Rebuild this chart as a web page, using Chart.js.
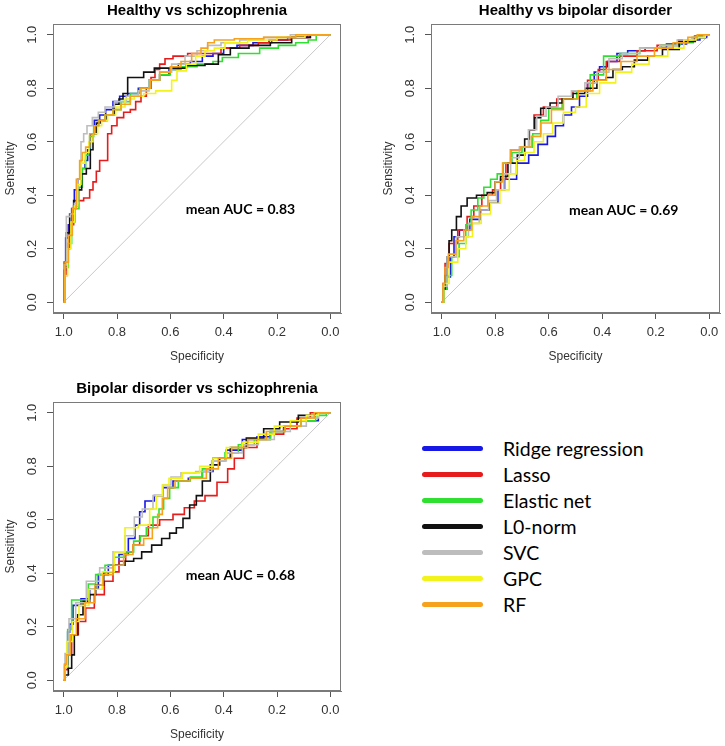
<!DOCTYPE html>
<html>
<head>
<meta charset="utf-8">
<script src="https://cdn.jsdelivr.net/npm/chart.js@4.4.1/dist/chart.umd.min.js"></script>
<style>
  html, body { margin: 0; padding: 0; background: #fff; }
  body { width: 725px; height: 746px; position: relative; overflow: hidden; }
  canvas { position: absolute; }
  #legend { position: absolute; left: 422px; top: 435px; font-family: Lato, "Open Sans", sans-serif; font-size: 19.5px; color: #000; }
  #legend .row { height: 26px; display: flex; align-items: center; }
  #legend .swatch { display: inline-block; width: 61px; height: 5px; border-radius: 3px; margin-right: 20px; }
</style>
</head>
<body>
<canvas id="hs" width="362" height="373" style="left:0;top:0"></canvas>
<canvas id="hb" width="363" height="373" style="left:362px;top:0"></canvas>
<canvas id="bs" width="362" height="373" style="left:0;top:378px"></canvas>
<div id="legend"></div>
<script>
// ── Models & styling ──
const models = ['Ridge regression', 'Lasso', 'Elastic net', 'L0-norm', 'SVC', 'GPC', 'RF'];
const modelColors = ['#1818e6', '#e61c1c', '#30e030', '#111111', '#bdbdbd', '#f2f21c', '#f7a21c'];
const xTicks = [1.0, 0.8, 0.6, 0.4, 0.2, 0.0];
const yTicks = [0.0, 0.2, 0.4, 0.6, 0.8, 1.0];

// ── Healthy vs schizophrenia: [specificity, sensitivity] ──
const hsRidge = [[1,0],[0.995,0.12],[0.99,0.24],[0.975,0.29],[0.965,0.35],[0.955,0.42],[0.94,0.46],[0.925,0.5],[0.915,0.53],[0.905,0.57],[0.895,0.63],[0.875,0.68],[0.855,0.7],[0.83,0.72],[0.8,0.75],[0.78,0.77],[0.74,0.78],[0.7,0.8],[0.66,0.83],[0.62,0.85],[0.59,0.87],[0.55,0.89],[0.5,0.9],[0.46,0.92],[0.42,0.93],[0.38,0.95],[0.32,0.96],[0.26,0.97],[0.2,0.98],[0.12,0.99],[0.05,1],[0,1]];
const hsLasso = [[1,0],[0.99,0.1],[0.985,0.2],[0.97,0.29],[0.955,0.36],[0.94,0.38],[0.91,0.39],[0.895,0.42],[0.885,0.45],[0.87,0.49],[0.86,0.53],[0.84,0.53],[0.83,0.63],[0.81,0.66],[0.79,0.69],[0.76,0.71],[0.74,0.72],[0.72,0.75],[0.7,0.77],[0.68,0.8],[0.665,0.84],[0.65,0.87],[0.63,0.89],[0.61,0.91],[0.57,0.92],[0.5,0.93],[0.44,0.93],[0.38,0.95],[0.3,0.96],[0.24,0.97],[0.2,0.98],[0.1,0.99],[0.05,1],[0,1]];
const hsElastic = [[1,0],[0.99,0.13],[0.975,0.22],[0.965,0.3],[0.95,0.35],[0.935,0.43],[0.925,0.5],[0.91,0.55],[0.895,0.62],[0.88,0.66],[0.86,0.68],[0.83,0.7],[0.8,0.72],[0.77,0.75],[0.73,0.78],[0.7,0.8],[0.66,0.83],[0.62,0.85],[0.58,0.87],[0.54,0.88],[0.46,0.89],[0.42,0.9],[0.39,0.915],[0.3,0.93],[0.23,0.95],[0.16,0.96],[0.1,0.97],[0.066,0.98],[0.04,1],[0,1]];
const hsL0 = [[1,0],[0.995,0.15],[0.985,0.26],[0.97,0.33],[0.955,0.38],[0.94,0.42],[0.925,0.48],[0.905,0.5],[0.895,0.57],[0.885,0.63],[0.87,0.67],[0.855,0.68],[0.82,0.7],[0.8,0.74],[0.785,0.76],[0.77,0.78],[0.75,0.84],[0.72,0.84],[0.68,0.86],[0.64,0.875],[0.58,0.875],[0.5,0.885],[0.44,0.89],[0.4,0.925],[0.35,0.95],[0.26,0.96],[0.19,0.97],[0.1,0.99],[0.05,1],[0,1]];
const hsSVC = [[1,0],[0.995,0.14],[0.985,0.32],[0.965,0.33],[0.955,0.37],[0.94,0.46],[0.93,0.6],[0.92,0.63],[0.905,0.66],[0.88,0.69],[0.86,0.71],[0.83,0.73],[0.79,0.75],[0.74,0.77],[0.7,0.79],[0.66,0.83],[0.62,0.86],[0.57,0.89],[0.52,0.92],[0.48,0.94],[0.44,0.96],[0.38,0.97],[0.3,0.98],[0.2,0.99],[0.1,1],[0,1]];
const hsGPC = [[1,0],[0.99,0.1],[0.98,0.2],[0.965,0.3],[0.955,0.36],[0.94,0.44],[0.93,0.52],[0.91,0.56],[0.9,0.6],[0.88,0.63],[0.865,0.66],[0.85,0.68],[0.82,0.7],[0.79,0.73],[0.75,0.76],[0.72,0.77],[0.68,0.78],[0.63,0.79],[0.6,0.79],[0.59,0.83],[0.56,0.865],[0.52,0.89],[0.49,0.92],[0.45,0.94],[0.42,0.95],[0.37,0.97],[0.25,0.98],[0.15,0.99],[0.04,1],[0,1]];
const hsRF = [[1,0],[0.99,0.15],[0.975,0.25],[0.96,0.35],[0.945,0.46],[0.935,0.53],[0.925,0.56],[0.91,0.58],[0.895,0.63],[0.875,0.66],[0.86,0.68],[0.83,0.7],[0.8,0.72],[0.77,0.74],[0.73,0.77],[0.69,0.8],[0.66,0.83],[0.62,0.86],[0.58,0.88],[0.54,0.9],[0.5,0.93],[0.47,0.95],[0.45,0.97],[0.42,0.98],[0.3,0.985],[0.2,0.99],[0.06,1],[0,1]];

// ── Healthy vs bipolar disorder ──
const hbRidge = [[1,0],[0.985,0.05],[0.975,0.095],[0.96,0.17],[0.948,0.245],[0.92,0.27],[0.87,0.31],[0.84,0.345],[0.8,0.37],[0.78,0.42],[0.75,0.46],[0.69,0.52],[0.66,0.55],[0.62,0.59],[0.59,0.62],[0.56,0.66],[0.53,0.7],[0.5,0.73],[0.47,0.77],[0.44,0.82],[0.42,0.86],[0.4,0.88],[0.36,0.9],[0.33,0.93],[0.28,0.94],[0.2,0.95],[0.12,0.965],[0.05,0.98],[0.02,0.99],[0,1]];
const hbLasso = [[1,0],[0.99,0.07],[0.985,0.145],[0.96,0.22],[0.92,0.27],[0.89,0.32],[0.87,0.36],[0.83,0.4],[0.79,0.42],[0.77,0.46],[0.75,0.52],[0.735,0.57],[0.68,0.58],[0.67,0.645],[0.64,0.7],[0.6,0.73],[0.54,0.76],[0.48,0.79],[0.43,0.83],[0.4,0.87],[0.37,0.9],[0.3,0.92],[0.24,0.94],[0.15,0.96],[0.08,0.98],[0.03,0.995],[0,1]];
const hbElastic = [[1,0],[0.985,0.05],[0.975,0.1],[0.95,0.17],[0.92,0.22],[0.9,0.29],[0.88,0.345],[0.85,0.39],[0.835,0.43],[0.8,0.46],[0.785,0.48],[0.755,0.52],[0.72,0.56],[0.68,0.58],[0.64,0.63],[0.62,0.68],[0.58,0.725],[0.52,0.76],[0.47,0.79],[0.42,0.85],[0.37,0.92],[0.3,0.93],[0.22,0.95],[0.14,0.96],[0.08,0.97],[0.04,0.99],[0,1]];
const hbL0 = [[1,0],[0.99,0.05],[0.985,0.1],[0.975,0.17],[0.97,0.23],[0.955,0.27],[0.935,0.32],[0.92,0.36],[0.89,0.39],[0.85,0.4],[0.81,0.41],[0.79,0.45],[0.77,0.47],[0.735,0.52],[0.7,0.55],[0.68,0.61],[0.665,0.645],[0.64,0.69],[0.62,0.725],[0.57,0.745],[0.53,0.76],[0.49,0.78],[0.44,0.8],[0.4,0.83],[0.37,0.84],[0.35,0.87],[0.3,0.88],[0.26,0.905],[0.2,0.92],[0.15,0.945],[0.075,0.975],[0.03,0.99],[0,1]];
const hbSVC = [[1,0],[0.99,0.06],[0.97,0.17],[0.92,0.245],[0.88,0.295],[0.84,0.345],[0.81,0.38],[0.78,0.42],[0.755,0.48],[0.73,0.54],[0.69,0.58],[0.66,0.645],[0.63,0.695],[0.59,0.73],[0.54,0.77],[0.49,0.79],[0.44,0.82],[0.4,0.86],[0.35,0.91],[0.3,0.93],[0.22,0.95],[0.15,0.96],[0.09,0.98],[0.04,0.99],[0,1]];
const hbGPC = [[1,0],[0.985,0.07],[0.96,0.15],[0.92,0.2],[0.9,0.245],[0.87,0.295],[0.835,0.33],[0.8,0.37],[0.765,0.42],[0.73,0.48],[0.71,0.53],[0.67,0.56],[0.64,0.6],[0.6,0.63],[0.57,0.67],[0.52,0.71],[0.48,0.73],[0.44,0.78],[0.38,0.82],[0.32,0.86],[0.26,0.89],[0.19,0.92],[0.12,0.95],[0.07,0.98],[0.03,0.99],[0,1]];
const hbRF = [[1,0],[0.99,0.07],[0.985,0.13],[0.965,0.18],[0.93,0.23],[0.905,0.27],[0.87,0.32],[0.845,0.36],[0.81,0.4],[0.79,0.45],[0.755,0.52],[0.73,0.57],[0.68,0.58],[0.65,0.62],[0.61,0.67],[0.57,0.72],[0.52,0.76],[0.46,0.79],[0.41,0.83],[0.36,0.87],[0.3,0.9],[0.24,0.92],[0.17,0.95],[0.1,0.97],[0.06,0.99],[0.03,1],[0,1]];

// ── Bipolar disorder vs schizophrenia ──
const bsRidge = [[1,0],[0.99,0.06],[0.98,0.18],[0.975,0.21],[0.955,0.28],[0.915,0.305],[0.89,0.34],[0.85,0.395],[0.815,0.43],[0.77,0.47],[0.745,0.53],[0.72,0.58],[0.71,0.63],[0.68,0.67],[0.64,0.69],[0.615,0.72],[0.565,0.745],[0.5,0.755],[0.46,0.78],[0.42,0.83],[0.36,0.86],[0.3,0.9],[0.25,0.91],[0.2,0.93],[0.15,0.95],[0.1,0.97],[0.06,0.97],[0.03,1],[0,1]];
const bsLasso = [[1,0],[0.99,0.04],[0.98,0.095],[0.96,0.17],[0.93,0.22],[0.905,0.27],[0.865,0.32],[0.83,0.37],[0.8,0.405],[0.785,0.445],[0.75,0.48],[0.73,0.505],[0.7,0.54],[0.665,0.58],[0.615,0.6],[0.565,0.62],[0.53,0.645],[0.49,0.67],[0.45,0.69],[0.4,0.74],[0.37,0.79],[0.35,0.83],[0.3,0.87],[0.25,0.9],[0.2,0.92],[0.15,0.94],[0.1,0.98],[0.05,1],[0,1]];
const bsElastic = [[1,0],[0.99,0.05],[0.98,0.19],[0.96,0.3],[0.915,0.3],[0.9,0.36],[0.86,0.395],[0.83,0.43],[0.79,0.46],[0.75,0.48],[0.725,0.52],[0.7,0.54],[0.68,0.57],[0.65,0.61],[0.635,0.64],[0.615,0.68],[0.59,0.72],[0.55,0.745],[0.5,0.76],[0.46,0.79],[0.42,0.82],[0.37,0.85],[0.32,0.88],[0.25,0.9],[0.2,0.93],[0.14,0.95],[0.08,0.97],[0.03,0.99],[0,1]];
const bsL0 = [[1,0],[0.99,0.02],[0.975,0.045],[0.965,0.095],[0.955,0.17],[0.94,0.245],[0.915,0.295],[0.89,0.32],[0.87,0.355],[0.83,0.405],[0.79,0.43],[0.75,0.445],[0.725,0.455],[0.69,0.48],[0.65,0.505],[0.615,0.53],[0.59,0.55],[0.565,0.57],[0.54,0.605],[0.515,0.655],[0.49,0.69],[0.47,0.745],[0.43,0.805],[0.4,0.83],[0.35,0.87],[0.28,0.905],[0.22,0.94],[0.16,0.965],[0.08,0.99],[0.035,1],[0,1]];
const bsSVC = [[1,0],[0.99,0.1],[0.97,0.23],[0.94,0.29],[0.89,0.37],[0.84,0.42],[0.79,0.48],[0.75,0.54],[0.72,0.61],[0.69,0.64],[0.64,0.69],[0.615,0.73],[0.58,0.76],[0.54,0.775],[0.47,0.78],[0.42,0.82],[0.36,0.85],[0.3,0.88],[0.24,0.9],[0.18,0.93],[0.12,0.95],[0.06,0.98],[0.03,1],[0,1]];
const bsGPC = [[1,0],[0.995,0.05],[0.98,0.145],[0.955,0.22],[0.93,0.28],[0.88,0.34],[0.83,0.405],[0.79,0.48],[0.75,0.57],[0.69,0.58],[0.665,0.64],[0.64,0.69],[0.62,0.73],[0.59,0.755],[0.52,0.775],[0.46,0.8],[0.42,0.83],[0.36,0.87],[0.3,0.89],[0.24,0.92],[0.18,0.95],[0.12,0.97],[0.06,0.99],[0.03,1],[0,1]];
const bsRF = [[1,0],[0.995,0.06],[0.985,0.095],[0.965,0.17],[0.94,0.23],[0.9,0.29],[0.865,0.355],[0.84,0.395],[0.79,0.43],[0.76,0.47],[0.72,0.505],[0.68,0.53],[0.655,0.57],[0.64,0.62],[0.62,0.68],[0.6,0.72],[0.565,0.745],[0.49,0.755],[0.44,0.79],[0.4,0.83],[0.34,0.87],[0.28,0.9],[0.2,0.93],[0.14,0.95],[0.08,0.98],[0.04,1],[0,1]];

const chanceLine = [[1,0],[0,1]];

// ── Panels ──
const panels = [
  { id: 'hs', title: 'Healthy vs schizophrenia', auc: 'mean AUC = 0.83', aucAt: [0.542, 0.345], pad: { left: 0, right: 21 },
    series: [hsRidge, hsLasso, hsElastic, hsL0, hsSVC, hsGPC, hsRF] },
  { id: 'hb', title: 'Healthy vs bipolar disorder', auc: 'mean AUC = 0.69', aucAt: [0.524, 0.343], pad: { left: 16, right: 5 },
    series: [hbRidge, hbLasso, hbElastic, hbL0, hbSVC, hbGPC, hbRF] },
  { id: 'bs', title: 'Bipolar disorder vs schizophrenia', auc: 'mean AUC = 0.68', aucAt: [0.542, 0.391], pad: { left: 0, right: 21 },
    series: [bsRidge, bsLasso, bsElastic, bsL0, bsSVC, bsGPC, bsRF] },
];

const TICK_FONT = { family: '"Liberation Sans", Arial, sans-serif', size: 13 };
const TITLE_FONT = { family: '"Liberation Sans", Arial, sans-serif', size: 12 };

// box round the plot region + the AUC note
const rBox = {
  id: 'rBox',
  afterDraw(chart, args, opts) {
    const { ctx, chartArea: a, scales: { x, y } } = chart;
    ctx.save();
    ctx.strokeStyle = '#7a7a7a';
    ctx.lineWidth = 1;
    ctx.strokeRect(Math.round(a.left) + 0.5, Math.round(a.top) + 0.5, Math.round(a.right - a.left) - 1, Math.round(a.bottom - a.top) - 1);
    ctx.font = 'bold 14px Lato, sans-serif';
    ctx.fillStyle = '#000';
    ctx.textBaseline = 'middle';
    ctx.textAlign = 'left';
    ctx.fillText(opts.text, x.getPixelForValue(opts.at[0]), y.getPixelForValue(opts.at[1]));
    ctx.restore();
  }
};

function axisOpts(ticks, title, extra) {
  return {
    type: 'linear', min: -0.04, max: 1.04,
    afterBuildTicks: s => { s.ticks = ticks.map(v => ({ value: v })); },
    grid: { drawOnChartArea: false, drawTicks: true, tickLength: 6, color: '#555' },
    border: { display: true, color: '#7a7a7a' },
    ticks: { font: TICK_FONT, color: '#333', padding: 6, autoSkip: false, callback: v => Number(v).toFixed(1) },
    title: { display: true, text: title, font: TITLE_FONT, color: '#333' },
    ...extra
  };
}

panels.forEach(p => {
  const datasets = p.series.map((pts, i) => ({
    label: models[i],
    data: pts.map(d => ({ x: d[0], y: d[1] })),
    borderColor: modelColors[i],
    borderWidth: 1.6,
    stepped: 'middle',
    pointRadius: 0,
    fill: false,
    order: 7 - i
  }));
  datasets.push({
    label: 'chance',
    data: chanceLine.map(d => ({ x: d[0], y: d[1] })),
    borderColor: '#c8c8c8', borderWidth: 1, pointRadius: 0, fill: false, order: 100
  });

  // tick padding counts twice in the axis size, once in label placement
  const xAx = axisOpts(xTicks, 'Specificity', { reverse: true });
  xAx.title.padding = { top: 3, bottom: 9 };
  const yAx = axisOpts(yTicks, 'Sensitivity', {});
  yAx.ticks = { ...yAx.ticks, minRotation: 90, maxRotation: 90, crossAlign: 'center' };
  yAx.title.padding = { top: 3, bottom: 2 };

  new Chart(document.getElementById(p.id), {
    type: 'line',
    data: { datasets },
    options: {
      responsive: false, animation: false, events: [],
      layout: { padding: { left: p.pad.left, right: p.pad.right, top: 0, bottom: 0 } },
      plugins: {
        legend: { display: false },
        tooltip: { enabled: false },
        title: { display: true, text: p.title, fullSize: false, color: '#000',
                 font: { family: '"Liberation Sans", Arial, sans-serif', size: 15, weight: 'bold' },
                 padding: { top: 2, bottom: 4 } },
        rBox: { text: p.auc, at: p.aucAt }
      },
      scales: { x: xAx, y: yAx }
    },
    plugins: [rBox]
  });
});

// ── Legend ──
document.getElementById('legend').innerHTML = models.map((m, i) =>
  `<div class="row"><span class="swatch" style="background:${modelColors[i]}"></span>${m}</div>`
).join('');
</script>
</body>
</html>
